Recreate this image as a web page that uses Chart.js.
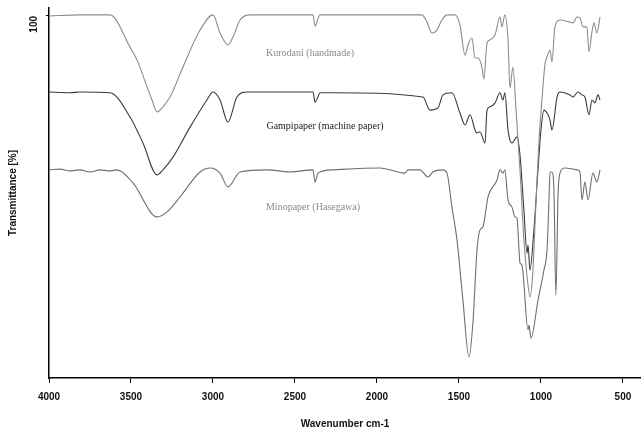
<!DOCTYPE html>
<html>
<head>
<meta charset="utf-8">
<script src="https://cdn.jsdelivr.net/npm/chart.js@4/dist/chart.umd.min.js"></script>
<style>
  html, body { margin: 0; padding: 0; background: #fff; }
  #wrap { width: 641px; height: 433px; }
</style>
</head>
<body>
<div id="wrap"><canvas id="canvas" width="641" height="433"></canvas></div>
<script>
// Tick labels
const xTicks = [4000, 3500, 3000, 2500, 2000, 1500, 1000, 500];
const yTicks = [100];

// Kurodani (handmade) - top trace
const kurodaniWn = [4000, 3811, 3628, 3506, 3463, 3402, 3372, 3341, 3305, 3262, 3183, 3079, 3000, 2957, 2909, 2878, 2835, 2774,
    2390, 2378, 2360, 2348, 1726, 1695, 1665, 1634, 1604, 1573, 1524, 1494, 1463, 1445, 1421, 1402, 1384, 1360, 1348,
    1329, 1311, 1280, 1250, 1238, 1220, 1201, 1189, 1171, 1152, 1128, 1104, 1079, 1067, 1049, 1030, 1012, 994, 976,
    963, 945, 933, 915, 884, 823, 805, 780, 762, 744, 720, 707, 689, 677, 659, 640];
const kurodaniT = [100, 100.3, 100.3, 91.4, 87.8, 80.4, 76.8, 73.5, 74.9, 77.6, 85.9, 96.1, 100.3, 95.3, 92.0, 94.2, 98.9, 100.3,
    100.3, 97.2, 99.2, 100.3, 100.3, 98.3, 95.3, 96.1, 98.9, 100.3, 100.3, 97.5, 89.2, 92.0, 93.9, 88.4, 88.4, 85.9, 82.6,
    92.5, 93.4, 94.8, 99.7, 97.0, 100.3, 93.4, 80.1, 85.9, 74.0, 57.5, 38.1, 25.7, 22.4, 29.8, 49.2, 65.7, 76.8, 86.5,
    88.7, 90.6, 87.3, 97.0, 98.9, 98.3, 98.1, 99.7, 99.4, 97.0, 97.0, 90.1, 95.6, 98.1, 95.3, 99.7];

// Gampipaper (machine paper) - middle trace
const gampiWn = [4000, 3872, 3811, 3628, 3506, 3427, 3341, 3305, 3244, 3140, 3037, 3000, 2957, 2909, 2854, 2793,
    2390, 2378, 2360, 2348, 2268, 1720, 1677, 1628, 1598, 1543, 1494, 1463, 1433, 1402, 1390, 1372, 1341, 1329, 1311,
    1280, 1250, 1232, 1220, 1201, 1189, 1177, 1146, 1128, 1104, 1085, 1079, 1067, 1043, 1018, 1000, 982, 963, 945,
    933, 902, 884, 823, 805, 774, 750, 732, 707, 689, 671, 652, 640];
const gampiT = [79.0, 78.8, 79.0, 78.8, 72.1, 64.9, 56.1, 57.5, 61.0, 69.3, 76.8, 79.0, 76.8, 70.7, 77.6, 79.0,
    79.0, 76.2, 77.6, 78.8, 78.8, 77.6, 74.0, 74.6, 78.2, 78.8, 73.2, 69.9, 72.7, 68.5, 67.7, 68.0, 64.9, 74.0, 74.9,
    76.0, 78.8, 76.8, 78.8, 68.5, 65.7, 64.9, 66.6, 61.6, 46.4, 34.5, 36.7, 29.8, 40.9, 57.5, 68.5, 74.0, 73.2, 71.3,
    68.5, 77.6, 79.0, 78.2, 77.6, 79.0, 78.2, 77.6, 72.7, 76.8, 76.0, 78.2, 76.8];

// Minopaper (Hasegawa) - bottom trace
const minoWn = [4000, 3933, 3872, 3811, 3750, 3689, 3628, 3585, 3488, 3341, 3280, 3201, 3079, 3018, 2957, 2909, 2835,
    2671, 2530, 2390, 2378, 2360, 2268, 1982, 1829, 1811, 1738, 1689, 1659, 1598, 1573, 1543, 1512, 1476, 1439, 1415,
    1390, 1372, 1354, 1323, 1268, 1250, 1232, 1220, 1201, 1177, 1159, 1146, 1134, 1128, 1116, 1079, 1073, 1061, 1018,
    982, 963, 951, 945, 933, 921, 909, 896, 884, 854, 780, 762, 750, 732, 713, 683, 659, 640];
const minoT = [57.5, 57.7, 57.2, 57.5, 56.9, 57.5, 57.2, 57.5, 53.9, 44.5, 45.9, 50.0, 56.9, 58.0, 56.6, 52.8, 56.9,
    57.5, 56.9, 57.5, 54.1, 56.6, 57.5, 58.0, 56.6, 57.5, 57.5, 55.5, 56.9, 57.5, 56.6, 47.2, 38.1, 21.5, 5.8, 15.2,
    35.4, 40.9, 41.7, 50.0, 54.7, 57.5, 56.6, 57.5, 49.2, 47.2, 44.5, 44.2, 35.4, 31.8, 31.2, 13.3, 14.6, 11.0, 21.5,
    29.8, 35.4, 49.2, 56.9, 56.9, 51.9, 22.9, 50.6, 56.6, 58.0, 57.5, 56.9, 49.2, 54.1, 49.2, 56.6, 54.1, 57.5];

const seriesNames = ['Kurodani (handmade)', 'Gampipaper (machine paper)', 'Minopaper (Hasegawa)'];

function toPoints(wn, t) {
    return wn.map((w, i) => ({ x: w, y: t[i] }));
}

// Labels written next to each trace
const traceLabels = {
    id: 'traceLabels',
    afterDatasetsDraw(chart) {
        const ctx = chart.ctx;
        const x = chart.scales.x, y = chart.scales.y;
        const spots = [
            { text: seriesNames[0], wn: 2408, t: 89.8, color: '#8a8a8a' },
            { text: seriesNames[1], wn: 2317, t: 69.6, color: '#222' },
            { text: seriesNames[2], wn: 2390, t: 47.0, color: '#8a8a8a' }
        ];
        ctx.save();
        ctx.font = '10px "Liberation Serif", serif';
        ctx.textAlign = 'center';
        ctx.textBaseline = 'middle';
        spots.forEach(s => {
            ctx.fillStyle = s.color;
            ctx.fillText(s.text, x.getPixelForValue(s.wn), y.getPixelForValue(s.t));
        });
        ctx.restore();
    }
};

const axisFont = { family: '"Liberation Sans", Arial, sans-serif', size: 10, weight: 'bold' };

const config = {
    type: 'line',
    data: {
        datasets: [
            { label: seriesNames[0], data: toPoints(kurodaniWn, kurodaniT), borderColor: '#8c8c8c' },
            { label: seriesNames[1], data: toPoints(gampiWn, gampiT), borderColor: '#3a3a3a' },
            { label: seriesNames[2], data: toPoints(minoWn, minoT), borderColor: '#6e6e6e' }
        ]
    },
    options: {
        responsive: false,
        animation: false,
        devicePixelRatio: 1,
        layout: { padding: { top: 8, right: 0, bottom: 0, left: 0 } },
        elements: {
            point: { radius: 0 },
            line: { borderWidth: 1.1, cubicInterpolationMode: 'monotone', fill: false }
        },
        plugins: {
            legend: { display: false },
            tooltip: { enabled: false }
        },
        scales: {
            x: {
                type: 'linear',
                reverse: true,
                min: 390,
                max: 4000,
                afterBuildTicks: s => { s.ticks = xTicks.map(v => ({ value: v })); },
                afterFit: s => { s.height = 55; },
                border: { display: true, color: '#000', width: 1.5 },
                grid: { display: true, drawOnChartArea: false, drawTicks: true, tickLength: 5, color: '#000' },
                ticks: { color: '#111', font: axisFont, padding: 8, maxRotation: 0, autoSkip: false, callback: v => String(v) },
                title: { display: true, text: 'Wavenumber cm-1', color: '#111', font: axisFont, padding: { top: 0, bottom: 3 } }
            },
            y: {
                min: 0,
                max: 102.2,
                afterBuildTicks: s => { s.ticks = yTicks.map(v => ({ value: v })); },
                afterFit: s => { s.width = 49; s.paddingTop = 0; s.paddingBottom = 0; },
                border: { display: true, color: '#000', width: 1.5 },
                grid: { display: true, drawOnChartArea: false, drawTicks: true, tickLength: 3, color: '#000' },
                ticks: { color: '#111', font: axisFont, padding: 12, minRotation: 90, maxRotation: 90, callback: v => String(v) },
                title: { display: true, text: 'Transmittance [%]', color: '#111', font: axisFont, padding: { top: 7, bottom: 0 } }
            }
        }
    },
    plugins: [traceLabels]
};

new Chart('canvas', config);
</script>
</body>
</html>
